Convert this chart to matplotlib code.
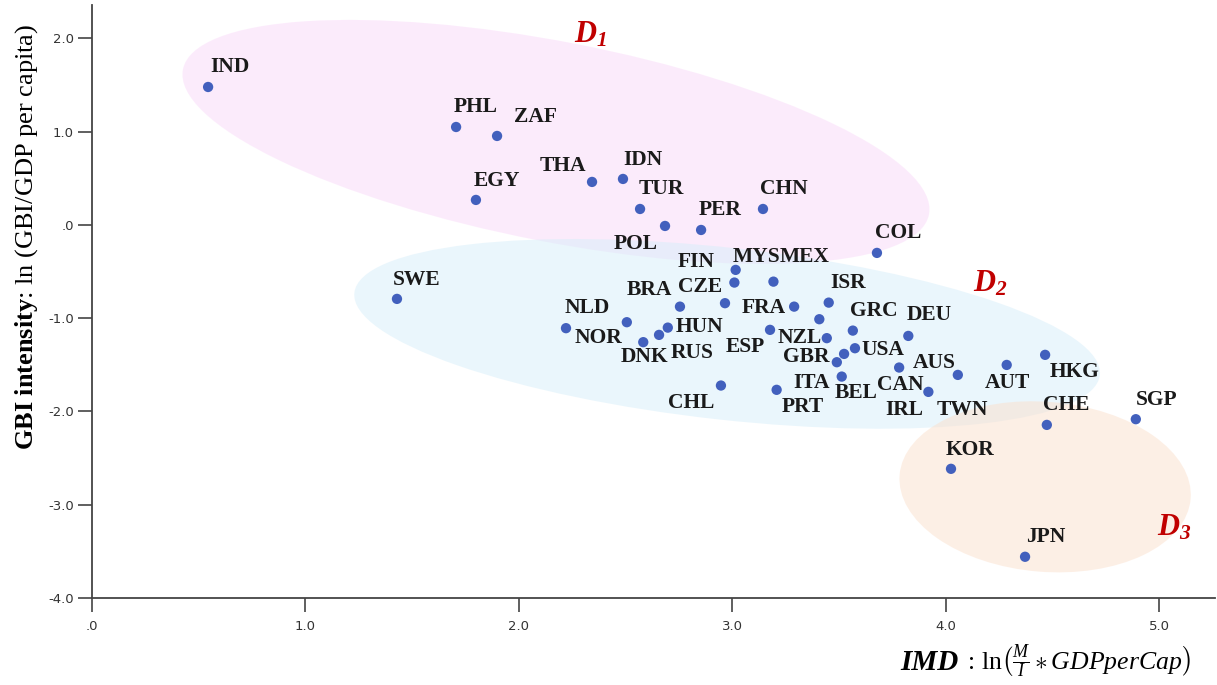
"""GBI intensity vs IMD scatter with three country groups (D1-D3)."""
import matplotlib
matplotlib.use("Agg")
import matplotlib.pyplot as plt
from matplotlib.patches import Ellipse
from matplotlib.transforms import Affine2D
from matplotlib.ticker import FuncFormatter, MultipleLocator

plt.rcParams["mathtext.fontset"] = "custom"
plt.rcParams["mathtext.rm"] = "Liberation Serif"
plt.rcParams["mathtext.it"] = "Liberation Serif:italic"
plt.rcParams["mathtext.bf"] = "Liberation Serif:bold"
plt.rcParams["mathtext.bfit"] = "Liberation Serif:bold:italic"

# --- data --------------------------------------------------------------------
countries = ["IND", "PHL", "ZAF", "EGY", "THA", "IDN", "TUR", "POL", "PER", "CHN",
             "COL", "MYS", "FIN", "MEX", "CZE", "BRA", "FRA", "ISR", "NZL", "GRC",
             "DEU", "NLD", "NOR", "DNK", "RUS", "HUN", "ESP", "GBR", "ITA", "USA",
             "AUS", "BEL", "CAN", "IRL", "CHL", "PRT", "TWN", "AUT", "HKG", "SWE",
             "CHE", "SGP", "KOR", "JPN"]
imd = [0.544, 1.706, 1.898, 1.799, 2.343, 2.488, 2.568, 2.685, 2.854, 3.144,
       3.678, 3.016, 3.010, 3.193, 2.966, 2.755, 3.290, 3.452, 3.408, 3.565,
       3.825, 2.221, 2.506, 2.583, 2.657, 2.698, 3.177, 3.443, 3.524, 3.575,
       3.782, 3.490, 3.513, 3.919, 2.947, 3.208, 4.057, 4.286, 4.466, 1.429,
       4.474, 4.891, 4.025, 4.372]
gbi = [1.479, 1.050, 0.954, 0.268, 0.461, 0.493, 0.171, -0.011, -0.054, 0.171,
       -0.300, -0.482, -0.618, -0.608, -0.839, -0.876, -0.876, -0.833, -1.011, -1.133,
       -1.190, -1.107, -1.043, -1.257, -1.179, -1.101, -1.125, -1.214, -1.383, -1.322,
       -1.529, -1.472, -1.626, -1.790, -1.722, -1.768, -1.608, -1.501, -1.393, -0.793,
       -2.144, -2.083, -2.615, -3.558]

group_names = [r"$\mathbfit{D_1}$", r"$\mathbfit{D_2}$", r"$\mathbfit{D_3}$"]

# --- layout / styling ---------------------------------------------------------
# label offsets in pixels (dx, dy) from each dot, left-aligned, v-centred
label_off = {
    "IND": (2, 20), "PHL": (-2, 20), "ZAF": (17, 19), "EGY": (-2, 19),
    "THA": (-52, 16), "IDN": (0, 19), "TUR": (-1, 20), "POL": (-51, -18),
    "PER": (-2, 20), "CHN": (-3, 20), "COL": (-2, 20), "MYS": (-3, 13),
    "FIN": (-57, 21), "MEX": (6, 25), "CZE": (-47, 16), "BRA": (-53, 17),
    "FRA": (-52, -1), "ISR": (2, 20), "NZL": (-42, -19), "GRC": (-3, 20),
    "DEU": (-2, 21), "NLD": (-1, 20), "NOR": (-52, -16), "DNK": (-23, -15),
    "RUS": (12, -18), "HUN": (8, 1), "ESP": (-44, -17), "GBR": (-44, -19),
    "ITA": (-51, -29), "USA": (7, -2), "AUS": (14, 5), "BEL": (-2, -31),
    "CAN": (35, -8), "IRL": (-43, -18), "CHL": (-53, -17), "PRT": (5, -17),
    "TWN": (-21, -35), "AUT": (-22, -18), "HKG": (5, -17), "SWE": (-4, 19),
    "CHE": (-4, 20), "SGP": (0, 19), "KOR": (-5, 19), "JPN": (1, 20),
}
# group regions: centre (data), semi-axes in pixels, angle, colour
regions = [
    dict(c=(2.174, 0.890), a=380, b=100, ang=-11.0, fc="#f9d8f9", txt=(2.334, 2.047)),
    dict(c=(2.976, -1.168), a=375, b=86, ang=-6.3, fc="#d6eefa", txt=(4.208, -0.622)),
    dict(c=(4.466, -2.808), a=146, b=85, ang=-4.7, fc="#fbe0cc", txt=(5.070, -3.237)),
]

W, H = 1217, 685
fig = plt.figure(figsize=(W / 100, H / 100), dpi=100)
ax = fig.add_axes([92 / W, 87 / H, 1123 / W, 593 / H])
xmin, xmax, ymin, ymax = 0, 5.262, -4.0, 2.358
ax.set_xlim(xmin, xmax)
ax.set_ylim(ymin, ymax)

# pixels per data unit, so ellipses can be drawn in screen proportions
sx = 1123 / (xmax - xmin)
sy = 593 / (ymax - ymin)
to_data = Affine2D().scale(1 / sx, 1 / sy) + ax.transData

for r in regions:
    e = Ellipse((r["c"][0] * sx, r["c"][1] * sy), 2 * r["a"], 2 * r["b"],
                angle=r["ang"], transform=to_data, facecolor=r["fc"],
                edgecolor="none", alpha=0.5, zorder=1)
    ax.add_patch(e)

for r, name in zip(regions, group_names):
    ax.text(r["txt"][0], r["txt"][1], name, color="#c00000", fontsize=22,
            ha="center", va="center", zorder=4)

ax.scatter(imd, gbi, s=55, color="#4260bd", edgecolors="none", zorder=3)

for name, x, y in zip(countries, imd, gbi):
    dx, dy = label_off[name]
    ax.annotate(name, (x, y), xytext=(dx, dy), textcoords="offset pixels",
                ha="left", va="center", fontsize=15.5, fontweight="bold",
                family="Liberation Serif", color="#1a1a1a", zorder=4)

# axes styling (SPSS look)
for side in ("top", "right"):
    ax.spines[side].set_visible(False)
for side in ("left", "bottom"):
    ax.spines[side].set_color("#444444")
    ax.spines[side].set_linewidth(1.3)
ax.xaxis.set_major_locator(MultipleLocator(1.0))
ax.yaxis.set_major_locator(MultipleLocator(1.0))
fmt = FuncFormatter(lambda v, p: ".0" if abs(v) < 1e-9 else f"{v:.1f}")
ax.xaxis.set_major_formatter(fmt)
ax.yaxis.set_major_formatter(fmt)
ax.tick_params(direction="out", length=10, width=1.2, color="#444444",
               labelsize=9.5, labelcolor="#333333", pad=3)
ax.tick_params(axis="x", pad=6)

fig.text(27 / W, 1 - 237 / H,
         r"$\mathbf{GBI\ intensity}$: ln (GBI/GDP per capita)",
         rotation=90, ha="center", va="center", fontsize=19,
         family="Liberation Serif", color="black")
fig.text(900 / W, 1 - 662 / H, "IMD", fontsize=21, fontweight="bold",
         fontstyle="italic", family="Liberation Serif", ha="left", va="center")
fig.text(961 / W, 1 - 662 / H,
         r" : ln$\left(\frac{M}{I} \ast GDPperCap\right)$",
         fontsize=18.5, family="Liberation Serif", ha="left", va="center")

fig.savefig("out.png", dpi=100)
